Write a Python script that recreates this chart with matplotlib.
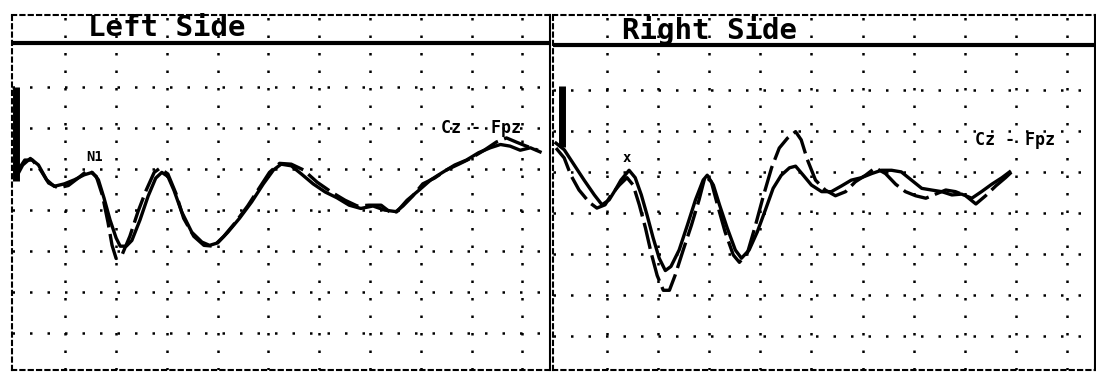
import numpy as np
import matplotlib
matplotlib.use('Agg')
import matplotlib.pyplot as plt

# time [ms] / amplitude [uV]
left_solid = np.array([[0.4, -0.9], [1.6, 0.5], [3.1, 1.3], [4.7, 0.5], [6.3, -1.3],
                       [7.8, -2.1], [9.8, -1.8], [11.8, -1.3], [13.7, -0.7], [15.3, -0.4],
                       [16.5, -1.3], [17.6, -3.5], [18.8, -6.2], [20.0, -8.4], [20.8, -9.4],
                       [22.0, -9.4], [23.1, -8.7], [24.7, -6.2], [26.3, -3.3], [27.8, -1.1],
                       [29.0, -0.4], [30.2, -0.9], [31.4, -2.6], [32.9, -5.2], [34.9, -7.7],
                       [36.9, -8.9], [38.4, -9.3], [40.0, -9.0], [42.0, -7.7], [44.3, -6.0],
                       [46.7, -4.0], [49.0, -1.8], [51.0, -0.1], [52.5, 0.6], [54.5, 0.4],
                       [56.5, -0.6], [58.8, -1.8], [61.2, -2.8], [63.5, -3.5], [65.9, -4.4],
                       [68.2, -4.8], [70.6, -4.5], [72.9, -5.0], [75.3, -5.2], [77.3, -3.8],
                       [79.6, -2.6], [82.0, -1.3], [84.3, -0.4], [86.7, 0.5], [89.0, 1.1],
                       [91.4, 2.0], [93.7, 2.6], [95.7, 3.0], [97.6, 2.8], [99.6, 2.3],
                       [101.6, 2.6], [103.5, 2.1]])
left_dashed = np.array([[0.4, -0.4], [2.0, 1.1], [3.5, 1.1], [5.1, -0.1], [6.7, -1.7],
                        [8.6, -2.3], [10.6, -2.0], [12.5, -1.1], [14.5, -0.1], [16.1, -0.9],
                        [17.3, -3.2], [18.4, -6.5], [19.2, -9.3], [20.0, -10.9], [21.2, -10.4],
                        [22.7, -8.2], [24.3, -5.2], [25.9, -2.6], [27.5, -0.4], [28.6, 0.1],
                        [30.2, -0.6], [31.8, -3.0], [33.3, -6.0], [35.3, -8.2], [37.3, -9.3],
                        [39.2, -9.4], [41.2, -8.2], [43.5, -6.5], [45.9, -4.5], [48.2, -2.3],
                        [50.2, -0.4], [52.2, 0.7], [54.5, 0.6], [56.9, -0.1], [59.6, -1.6],
                        [62.4, -2.8], [65.1, -3.8], [67.5, -4.5], [69.8, -4.4], [72.2, -4.4],
                        [74.5, -5.5], [76.5, -4.5], [78.4, -3.3], [80.4, -1.8], [82.7, -1.1],
                        [85.1, -0.1], [87.5, 0.6], [89.8, 1.3], [92.5, 2.3], [94.9, 3.3],
                        [96.9, 3.8], [98.8, 3.3], [100.8, 2.8], [103.1, 2.3]])
right_solid = np.array([[0.0, 3.5], [1.6, 2.7], [3.5, 0.9], [5.5, -1.0], [7.5, -2.8],
                        [9.0, -4.0], [10.4, -3.4], [11.6, -2.2], [12.7, -1.0], [14.3, 0.2],
                        [15.5, -0.7], [16.7, -2.8], [17.8, -5.2], [19.0, -8.0], [20.2, -10.5],
                        [21.4, -12.0], [22.5, -11.5], [24.1, -9.5], [25.7, -6.5], [27.3, -3.4],
                        [28.8, -1.0], [29.6, -0.4], [30.8, -1.6], [32.0, -4.0], [33.5, -6.8],
                        [35.1, -9.5], [36.3, -10.5], [37.8, -9.5], [39.4, -7.3], [41.0, -4.6],
                        [42.5, -2.0], [44.1, -0.4], [45.7, 0.5], [46.9, 0.7], [48.4, -0.4],
                        [50.0, -1.6], [52.0, -2.4], [53.9, -2.4], [55.9, -1.7], [57.8, -1.0],
                        [59.8, -0.7], [61.8, -0.2], [63.7, 0.2], [65.7, 0.2], [67.6, 0.0],
                        [69.6, -1.0], [71.6, -2.0], [73.5, -2.2], [75.5, -2.4], [77.5, -2.8],
                        [79.4, -2.7], [81.4, -3.2], [83.3, -2.4], [85.3, -1.5], [87.3, -0.7],
                        [88.8, 0.0]])
right_dashed = np.array([[0.0, 2.9], [1.6, 1.7], [2.9, -0.4], [4.5, -2.2], [6.5, -3.7],
                         [8.0, -4.4], [9.6, -4.0], [10.8, -2.8], [12.4, -1.6], [13.9, -0.7],
                         [15.1, -1.6], [16.3, -4.0], [17.5, -6.8], [18.6, -9.8], [19.8, -12.6],
                         [21.0, -14.4], [22.2, -14.4], [23.3, -12.6], [24.9, -9.5], [26.5, -6.5],
                         [28.0, -3.4], [29.2, -0.5], [30.4, -1.2], [31.6, -4.0], [33.1, -7.3],
                         [34.7, -10.1], [35.9, -11.0], [37.5, -9.8], [39.0, -6.6], [40.6, -2.9],
                         [42.2, 0.5], [43.7, 2.9], [45.3, 4.1], [46.9, 4.9], [48.0, 3.9],
                         [49.2, 1.5], [50.8, -1.0], [52.7, -2.2], [54.7, -2.9], [56.7, -2.4],
                         [58.6, -1.2], [60.6, -0.4], [62.5, 0.5], [64.5, -0.2], [66.5, -1.5],
                         [68.4, -2.4], [70.4, -2.9], [72.4, -3.2], [74.3, -2.7], [76.3, -2.2],
                         [78.2, -2.4], [80.2, -2.9], [82.2, -3.9], [84.1, -2.9], [86.1, -1.7],
                         [88.0, -0.7], [89.2, 0.0]])

titles = ['Left Side', 'Right Side']
channel = 'Cz - Fpz'
grid_t = np.arange(10, 101, 10)
grid_a = np.arange(10, -21, -5)


def panel(ax, solid, dashed, title, ylim, label_pos, mark, mark_pos, cal):
    ax.set_xlim(-0.5, 105.5)
    ax.set_ylim(*ylim)
    dots = (0, (1, 6))
    for t in grid_t:
        ax.axvline(t, color='k', lw=1.8, ls=dots)
    for a in grid_a:
        ax.axhline(a, color='k', lw=1.8, ls=dots)
    ax.axhline(15.4, color='k', lw=3)
    ax.plot(*solid.T, color='k', lw=2.4)
    ax.plot(*dashed.T, color='k', lw=2.4, ls=(0, (8, 2)))
    ax.plot([cal[0], cal[0]], cal[1:], color='k', lw=5, solid_capstyle='butt')
    ax.text(30, 17.2, title, family='DejaVu Sans Mono', weight='bold', fontsize=21,
            ha='center', va='center')
    ax.text(*label_pos, channel, family='DejaVu Sans Mono', weight='bold', fontsize=12,
            ha='center', va='center')
    ax.text(*mark_pos, mark, family='DejaVu Sans Mono', weight='bold', fontsize=10,
            ha='center', va='center')
    ax.set_xticks([])
    ax.set_yticks([])
    for s in ['top', 'left', 'bottom']:
        ax.spines[s].set_linestyle((0, (2, 2)))
        ax.spines[s].set_linewidth(1.5)
    ax.spines['right'].set_linewidth(1.5)


def main():
    fig = plt.figure(figsize=(10.96, 3.73), dpi=100)
    ax1 = fig.add_axes([0.011, 0.008, 0.491, 0.952])
    ax2 = fig.add_axes([0.505, 0.008, 0.494, 0.952])
    panel(ax1, left_solid, left_dashed, titles[0], (-24.5, 18.8), (91.8, 5.0), 'N1',
          (15.7, 1.5), (0.3, 10.0, -1.5))
    panel(ax2, right_solid, right_dashed, titles[1], (-24.1, 19.1), (89.8, 3.9), 'x',
          (13.9, 1.7), (1.2, 10.4, 3.0))
    fig.savefig('out.png', dpi=100)


if __name__ == '__main__':
    main()
